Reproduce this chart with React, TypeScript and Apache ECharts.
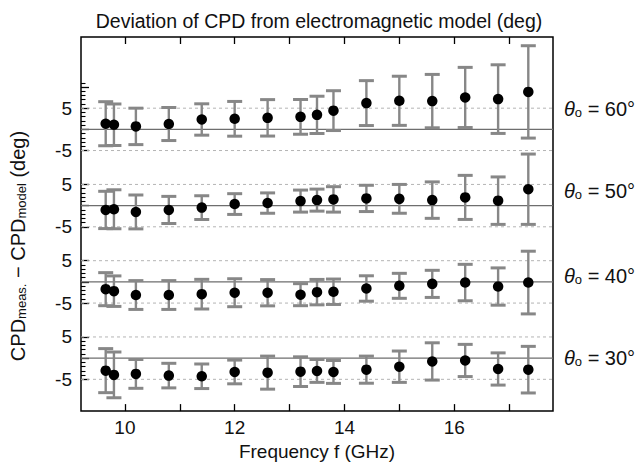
import { useEffect, useRef } from "react";
import * as echarts from "echarts";

// Measurement frequencies (GHz)
const frequencies = [9.65, 9.8, 10.2, 10.8, 11.4, 12.0, 12.6, 13.2, 13.5, 13.8, 14.4, 15.0, 15.6, 16.2, 16.8, 17.35];

// CPD deviation (deg) and its uncertainty for each incidence angle
const dev60 = [1.33, 1.09, 0.7, 1.26, 2.33, 2.49, 2.72, 2.95, 3.42, 4.42, 6.2, 6.74, 6.67, 7.53, 7.14, 8.84];
const err60 = [5.2, 4.9, 4.3, 3.9, 3.7, 4.1, 4.3, 4.1, 4.4, 4.7, 5.3, 5.8, 6.3, 7.1, 8.1, 10.9];

const dev50 = [-1.02, -0.86, -1.49, -1.02, -0.47, 0.37, 0.6, 1.07, 1.3, 1.47, 1.7, 1.6, 1.3, 1.94, 1.17, 3.87];
const err50 = [4.4, 4.6, 4.0, 3.2, 2.8, 2.45, 2.4, 2.6, 2.6, 3.0, 3.1, 3.4, 4.3, 5.2, 5.6, 8.3];

const dev40 = [-1.72, -2.19, -3.1, -3.1, -2.9, -2.56, -2.56, -3.02, -2.42, -2.33, -1.56, -0.93, -0.47, -0.16, -1.1, -0.16];
const err40 = [3.9, 3.6, 3.4, 3.4, 3.5, 3.3, 3.1, 2.6, 3.0, 3.0, 3.0, 2.95, 3.2, 4.3, 4.4, 7.4];

const dev30 = [-2.95, -3.95, -3.72, -4.12, -4.28, -3.26, -3.42, -3.19, -3.02, -3.26, -2.72, -2.02, -0.78, -0.55, -2.56, -2.72];
const err30 = [5.2, 5.4, 3.4, 2.9, 2.9, 2.8, 3.9, 3.5, 2.7, 2.7, 3.2, 3.7, 4.4, 3.8, 3.8, 5.5];

// Panels are stacked on one axis: each panel's zero sits at its offset (deg)
const panelAngles = [60, 50, 40, 30];
const panelOffsets = [54, 36, 18, 0];
const panelDeviations = [dev60, dev50, dev40, dev30];
const panelErrors = [err60, err50, err40, err30];
// Vertical position (axis units) of each θ₀ caption
const captionLevels = [58.8, 39.5, 19.5, 0];

const xTickValues = [10, 11, 12, 13, 14, 15, 16, 17];
const xLabelValues = [10, 12, 14, 16];
const yLabelSteps = [-5, 5];

const X_MIN = 9.2;
const X_MAX = 17.8;
const Y_MIN = -12.5;
const Y_MAX = 75.8;

const FONT = "Liberation Sans, Arial, Helvetica, sans-serif";

export default function App() {
  const ref = useRef<HTMLDivElement>(null);

  useEffect(() => {
    if (!ref.current) return;
    const chart = echarts.init(ref.current, undefined, { renderer: "svg" });

    // y tick values: 1-degree minor ticks, longer ticks every 5 degrees
    const minorTicks: number[] = [];
    const majorTicks: number[] = [];
    panelOffsets.forEach((o, pi) => {
      const top = pi === 0 ? 11 : 5;
      for (let k = -5; k <= top; k++) {
        if (k % 5 === 0) majorTicks.push(o + k);
        else minorTicks.push(o + k);
      }
    });
    const yLabels: number[] = [];
    panelOffsets.forEach((o) => yLabelSteps.forEach((s) => yLabels.push(o + s)));

    const pointData: number[][] = [];
    const barData: number[][] = [];
    panelOffsets.forEach((o, pi) => {
      frequencies.forEach((f, i) => {
        pointData.push([f, panelDeviations[pi][i] + o]);
        barData.push([f, panelDeviations[pi][i] + o, panelErrors[pi][i]]);
      });
    });

    // reference lines: solid at each zero, dashed at ±5
    const refLines: number[][] = [];
    panelOffsets.forEach((o) => {
      refLines.push([X_MIN, o, 0]);
      refLines.push([X_MIN, o + 5, 1]);
      refLines.push([X_MIN, o - 5, 1]);
    });

    const captions = panelAngles.map((a, i) => [X_MAX, captionLevels[i], a]);

    const tickStyle = { color: "#000", width: 1.3 };

    chart.setOption({
      animation: false,
      backgroundColor: "#ffffff",
      title: {
        text: "Deviation of CPD from electromagnetic model (deg)",
        left: "center",
        top: 6,
        textStyle: { fontFamily: FONT, fontSize: 19.5, fontWeight: "normal", color: "#111" },
      },
      grid: {
        left: 81,
        right: 85,
        top: 37,
        bottom: 50,
        show: true,
        borderColor: "#000",
        borderWidth: 1.5,
        backgroundColor: "transparent",
      },
      xAxis: [
        {
          type: "value",
          min: X_MIN,
          max: X_MAX,
          position: "bottom",
          name: "Frequency f (GHz)",
          nameLocation: "middle",
          nameGap: 27,
          nameTextStyle: { fontFamily: FONT, fontSize: 19, color: "#111" },
          axisLine: { show: false, onZero: false },
          splitLine: { show: false },
          axisTick: { show: true, inside: true, length: 7, customValues: xTickValues, lineStyle: tickStyle },
          axisLabel: { customValues: xLabelValues, fontFamily: FONT, fontSize: 19, color: "#111", margin: 7 },
        },
        {
          type: "value",
          min: X_MIN,
          max: X_MAX,
          position: "top",
          axisLine: { show: false, onZero: false },
          splitLine: { show: false },
          axisLabel: { show: false },
          axisTick: { show: true, inside: true, length: 7, customValues: xTickValues, lineStyle: tickStyle },
        },
      ],
      yAxis: [
        {
          type: "value",
          min: Y_MIN,
          max: Y_MAX,
          position: "left",
          axisLine: { show: false, onZero: false },
          splitLine: { show: false },
          axisLabel: { show: false },
          axisTick: {
            show: true,
            inside: true,
            length: 4.5,
            customValues: minorTicks,
            lineStyle: { color: "#000", width: 1.1 },
          },
        },
        {
          type: "value",
          min: Y_MIN,
          max: Y_MAX,
          position: "left",
          axisLine: { show: false, onZero: false },
          splitLine: { show: false },
          axisTick: { show: true, inside: true, length: 8, customValues: majorTicks, lineStyle: tickStyle },
          axisLabel: {
            customValues: yLabels,
            fontFamily: FONT,
            fontSize: 19,
            color: "#111",
            margin: 9,
            formatter: (v: number) => {
              const o = panelOffsets.find((p) => Math.abs(v - p) <= 6) ?? 0;
              return String(Math.round(v - o));
            },
          },
        },
      ],
      graphic: [
        {
          type: "text",
          x: 18,
          y: 246,
          rotation: Math.PI / 2,
          style: {
            text: "{m|CPD}{s|meas.}{m| − CPD}{s|model}{m| (deg)}",
            align: "center",
            verticalAlign: "middle",
            textAlign: "center",
            textVerticalAlign: "middle",
            fill: "#111",
            rich: {
              m: { fontFamily: FONT, fontSize: 20, lineHeight: 20, verticalAlign: "top", fill: "#111" },
              s: {
                fontFamily: FONT,
                fontSize: 13,
                lineHeight: 13,
                padding: [11, 0, 0, 0],
                verticalAlign: "bottom",
                fill: "#111",
              },
            },
          },
        },
      ],
      series: [
        {
          type: "custom",
          name: "reference lines",
          xAxisIndex: 0,
          yAxisIndex: 0,
          z: 1,
          silent: true,
          data: refLines,
          encode: { x: 0, y: 1 },
          renderItem: (_p: any, api: any) => {
            const y = api.value(1);
            const dashed = api.value(2) === 1;
            const a = api.coord([X_MIN, y]);
            const b = api.coord([X_MAX, y]);
            return {
              type: "line",
              shape: { x1: a[0], y1: a[1], x2: b[0], y2: b[1] },
              style: dashed
                ? { stroke: "#b4b4b4", lineWidth: 1, lineDash: [3, 3] }
                : { stroke: "#6e6e6e", lineWidth: 1.3 },
            };
          },
        },
        {
          type: "custom",
          name: "uncertainty",
          xAxisIndex: 0,
          yAxisIndex: 0,
          z: 3,
          silent: true,
          data: barData,
          encode: { x: 0, y: 1 },
          renderItem: (_p: any, api: any) => {
            const x = api.value(0);
            const y = api.value(1);
            const e = api.value(2);
            const lo = api.coord([x, y - e]);
            const hi = api.coord([x, y + e]);
            const hw = 7.5;
            const stem = { stroke: "#878787", lineWidth: 2.4 };
            const cap = { stroke: "#878787", lineWidth: 3 };
            return {
              type: "group",
              children: [
                { type: "line", shape: { x1: lo[0], y1: lo[1], x2: hi[0], y2: hi[1] }, style: stem },
                { type: "line", shape: { x1: lo[0] - hw, y1: lo[1], x2: lo[0] + hw, y2: lo[1] }, style: cap },
                { type: "line", shape: { x1: hi[0] - hw, y1: hi[1], x2: hi[0] + hw, y2: hi[1] }, style: cap },
              ],
            };
          },
        },
        {
          type: "scatter",
          name: "deviation",
          xAxisIndex: 0,
          yAxisIndex: 0,
          z: 4,
          silent: true,
          symbol: "circle",
          symbolSize: 10.5,
          itemStyle: { color: "#000", opacity: 1 },
          data: pointData,
        },
        {
          type: "custom",
          name: "captions",
          xAxisIndex: 0,
          yAxisIndex: 0,
          z: 5,
          silent: true,
          clip: false,
          data: captions,
          encode: { x: 0, y: 1 },
          renderItem: (_p: any, api: any) => {
            const pt = api.coord([api.value(0), api.value(1)]);
            const angle = api.value(2);
            return {
              type: "text",
              x: pt[0] + 11,
              y: pt[1],
              style: {
                text: `{t|θ}{s|o}{m| = ${angle}°}`,
                align: "left",
                verticalAlign: "middle",
                textAlign: "left",
                textVerticalAlign: "middle",
                fill: "#111",
                rich: {
                  t: { fontFamily: FONT, fontSize: 20, fontStyle: "italic", lineHeight: 20, verticalAlign: "top", fill: "#111" },
                  s: {
                    fontFamily: FONT,
                    fontSize: 13,
                    lineHeight: 13,
                    padding: [12, 0, 0, 0],
                    verticalAlign: "bottom",
                    fill: "#111",
                  },
                  m: { fontFamily: FONT, fontSize: 20, lineHeight: 20, verticalAlign: "top", fill: "#111" },
                },
              },
            };
          },
        },
      ],
    });

    return () => chart.dispose();
  }, []);

  return (
    <div
      ref={ref}
      style={{ position: "fixed", left: 0, top: 0, width: 638, height: 466, background: "#fff" }}
    />
  );
}
